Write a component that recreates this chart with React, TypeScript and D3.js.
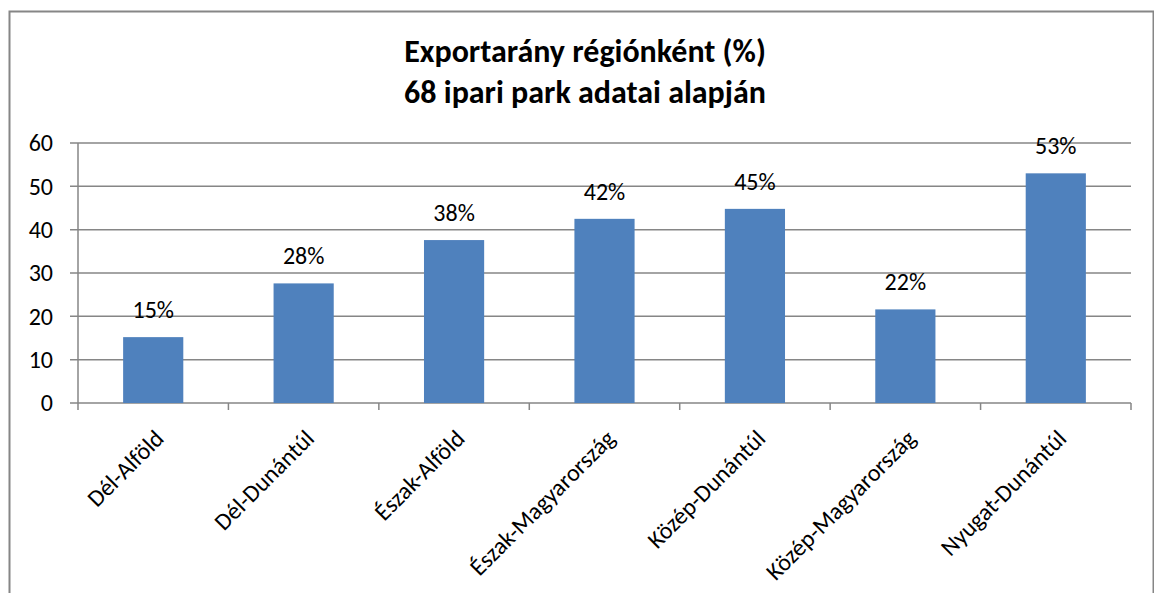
import React from "react";
import * as d3 from "d3";

const categories = [
  "Dél-Alföld",
  "Dél-Dunántúl",
  "Észak-Alföld",
  "Észak-Magyarország",
  "Közép-Dunántúl",
  "Közép-Magyarország",
  "Nyugat-Dunántúl",
];
const values = [15.2, 27.6, 37.6, 42.5, 44.8, 21.6, 53.0];
const valueLabels = ["15%", "28%", "38%", "42%", "45%", "22%", "53%"];
const yTicks = [0, 10, 20, 30, 40, 50, 60];
const titleLines = ["Exportarány régiónként (%)", "68 ipari park adatai alapján"];

const W = 1154;
const H = 593;
const FONT = "Carlito, Calibri, 'Liberation Sans', sans-serif";

export default function App() {
  const left = 78;
  const right = 1131;
  const top = 143;
  const bottom = 403;
  const x = d3.scaleBand<string>().domain(categories).range([left, right]).paddingInner(0).paddingOuter(0);
  const y = d3.scaleLinear().domain([0, 60]).range([bottom, top]);
  const bw = x.bandwidth() * 0.4;
  const tickXs = [left, ...categories.map((c) => (x(c) as number) + x.bandwidth())];

  return (
    <svg
      width={W}
      height={H}
      style={{ position: "absolute", left: 0, top: 0, background: "#fff" }}
      fontFamily={FONT}
    >
      <rect x={9.5} y={11.5} width={W - 10} height={H} fill="#fff" stroke="#868686" strokeWidth={2} />
      {titleLines.map((t, i) => (
        <text key={i} x={585} y={62 + i * 41} textAnchor="middle" fontWeight="bold" fontSize={32} fill="#000">
          {t}
        </text>
      ))}
      {yTicks.map((t) => (
        <g key={t}>
          <line x1={left - 8} x2={right} y1={y(t)} y2={y(t)} stroke="#868686" strokeWidth={1.5} />
          <text x={53} y={y(t)} dy="0.35em" textAnchor="end" fontSize={24} fill="#000">
            {t}
          </text>
        </g>
      ))}
      <line x1={left} x2={left} y1={top} y2={bottom} stroke="#868686" strokeWidth={1.5} />
      {tickXs.map((tx, i) => (
        <line key={i} x1={tx} x2={tx} y1={bottom} y2={bottom + 7} stroke="#868686" strokeWidth={1.5} />
      ))}
      {categories.map((c, i) => {
        const cx = (x(c) as number) + x.bandwidth() / 2;
        return (
          <g key={c}>
            <rect x={cx - bw / 2} y={y(values[i])} width={bw} height={bottom - y(values[i])} fill="#4f81bd" />
            <text x={cx} y={y(values[i]) - 19} textAnchor="middle" fontSize={24} fill="#000">
              {valueLabels[i]}
            </text>
            <text
              transform={`translate(${cx + 12},${bottom + 37}) rotate(-45)`}
              textAnchor="end"
              fontSize={24}
              fill="#000"
            >
              {c}
            </text>
          </g>
        );
      })}
    </svg>
  );
}
